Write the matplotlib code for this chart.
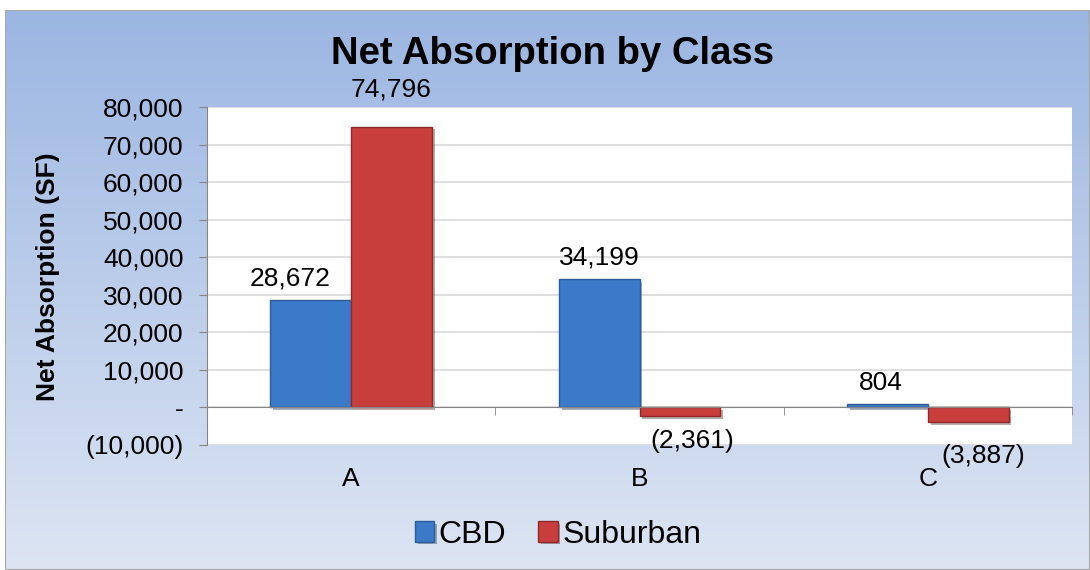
import numpy as np
import matplotlib.pyplot as plt
import matplotlib.patheffects as pe
from matplotlib.colors import LinearSegmentedColormap
from matplotlib.patches import Rectangle
from matplotlib.ticker import FuncFormatter

plt.rcParams['font.family'] = ['Liberation Sans', 'DejaVu Sans']

# datos
clases = ['A', 'B', 'C']
cbd = [28672, 34199, 804]
suburban = [74796, -2361, -3887]
y_ticks = [-10000, 0, 10000, 20000, 30000, 40000, 50000, 60000, 70000, 80000]

fig = plt.figure(figsize=(10.9, 5.7), dpi=100)

# fondo degradado del grafico
bg = fig.add_axes([0.0046, 0, 0.9954, 0.982])
bg.set_axis_off()
grad = LinearSegmentedColormap.from_list('fondo', ['#9bb6e2', '#dde5f3'])
bg.imshow(np.linspace(0, 1, 256).reshape(-1, 1), aspect='auto', cmap=grad,
          extent=[0, 1, 0, 1])
bg.add_patch(Rectangle((0, 0), 1, 1, transform=bg.transAxes, fill=False,
                       edgecolor='#a6a6a6', linewidth=1.5))

ax = fig.add_axes([0.1899, 0.2193, 0.7936, 0.593])
ax.set_facecolor('white')

sombra = [pe.SimplePatchShadow(offset=(2, -2), alpha=0.35), pe.Normal()]

x = np.arange(len(clases))
w = 0.28
b1 = ax.bar(x - w / 2, cbd, w, color='#3b7ac8', edgecolor='#2d5d99',
            linewidth=1, label='CBD', zorder=3, path_effects=sombra)
b2 = ax.bar(x + w / 2, suburban, w, color='#c83e3d', edgecolor='#8e2b2a',
            linewidth=1, label='Suburban', zorder=3, path_effects=sombra)

ax.set_xlim(-0.5, 2.5)
ax.set_ylim(-10000, 80000)
ax.set_yticks(y_ticks)


def fmt(v, pos):
    if v == 0:
        return '-'
    if v < 0:
        return '({:,.0f})'.format(-v)
    return '{:,.0f}'.format(v)


ax.yaxis.set_major_formatter(FuncFormatter(fmt))
ax.grid(axis='y', color='#d9d9d9', linewidth=1.2, zorder=0)
ax.tick_params(axis='y', labelsize=19, length=6, color='#868686', pad=11)

# eje x en cero
for s in ['top', 'right']:
    ax.spines[s].set_visible(False)
ax.spines['left'].set_color('#868686')
ax.spines['bottom'].set_position(('data', 0))
ax.spines['bottom'].set_color('#868686')
ax.spines['bottom'].set_zorder(4)
ax.set_xticks(x, clases)
ax.set_xticks([0.5, 1.5, 2.5], minor=True)
ax.tick_params(axis='x', which='major', length=0, labelsize=19, pad=43)
ax.tick_params(axis='x', which='minor', length=6, color='#868686')

ax.set_ylabel('Net Absorption (SF)', fontsize=19, fontweight='bold')
ax.yaxis.set_label_coords(-0.170, 0.497)

# etiquetas de datos (ajustes en puntos para las que Excel desplaza)
ajustes = {(0, 0): (-15, 0), (1, 0): (0, 11), (0, 2): (-5, 0),
           (1, 1): (9, -3), (1, 2): (11, -10)}
for j, barras in enumerate([b1, b2]):
    for i, rect in enumerate(barras):
        v = rect.get_height()
        cx = rect.get_x() + rect.get_width() / 2
        dx, dy = ajustes.get((j, i), (0, 0))
        if v >= 0:
            ax.annotate(fmt(v, None), (cx, v), xytext=(dx, 7 + dy),
                        textcoords='offset points', ha='center', va='bottom',
                        fontsize=19)
        else:
            ax.annotate(fmt(v, None), (cx, v), xytext=(dx, -6 + dy),
                        textcoords='offset points', ha='center', va='top',
                        fontsize=19)

fig.text(0.507, 0.905, 'Net Absorption by Class', ha='center', va='center',
         fontsize=27.5, fontweight='bold')

fig.legend(handles=[b1, b2], labels=['CBD', 'Suburban'], loc='center',
           bbox_to_anchor=(0.512, 0.062), ncol=2, frameon=False, fontsize=23,
           handlelength=0.6, handleheight=0.6, handletextpad=0.15,
           columnspacing=1.0)

fig.savefig('out.png', dpi=100)
